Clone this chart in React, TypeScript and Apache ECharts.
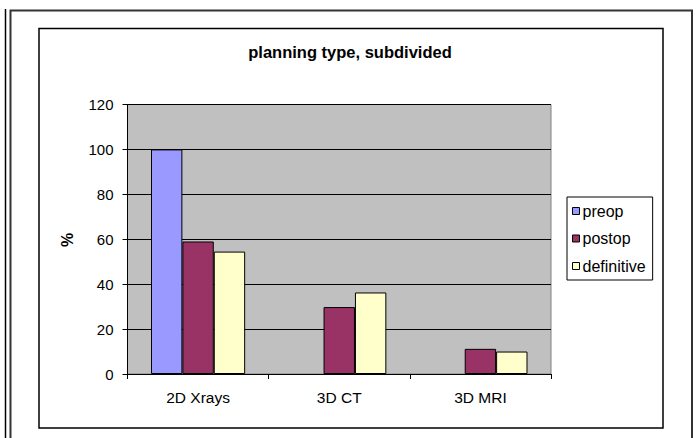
import React, { useEffect, useRef } from "react";
import * as echarts from "echarts";

const categories = ["2D Xrays", "3D CT", "3D MRI"];
const preop = [100, 0, 0];
const postop = [59, 29.8, 11.2];
const definitive = [54.5, 36.3, 10];
const seriesNames = ["preop", "postop", "definitive"];
const seriesColors = ["#9999FF", "#993366", "#FFFFCC"];

const FONT = "Arial, 'Liberation Sans', sans-serif";

export default function App() {
  const ref = useRef<HTMLDivElement>(null);

  useEffect(() => {
    if (!ref.current) return;
    const chart = echarts.init(ref.current, null, { renderer: "svg" });
    const values = [preop, postop, definitive];

    chart.setOption({
      animation: false,
      backgroundColor: "#ffffff",
      title: {
        text: "planning type, subdivided",
        left: 345,
        top: 38,
        textAlign: "center",
        textStyle: { fontFamily: FONT, fontSize: 16.5, fontWeight: "bold", color: "#000" },
      },
      grid: {
        left: 127.5,
        top: 104.5,
        right: 149,
        bottom: 64,
        show: true,
        backgroundColor: "#C0C0C0",
        borderColor: "#808080",
        borderWidth: 1,
      },
      legend: {
        orient: "vertical",
        left: 567,
        top: 197,
        padding: [6, 7, 6, 5],
        itemGap: 11.5,
        itemWidth: 7,
        itemHeight: 7,
        borderColor: "#000",
        borderWidth: 1,
        backgroundColor: "#fff",
        icon: "rect",
        itemStyle: { borderColor: "#000", borderWidth: 1 },
        textStyle: { fontFamily: FONT, fontSize: 16, color: "#000", lineHeight: 16, padding: [0, 0, 0, -2] },
        data: seriesNames,
      },
      xAxis: {
        type: "category",
        data: categories,
        axisLine: { lineStyle: { color: "#000", width: 1 } },
        axisTick: { show: true, length: 5, lineStyle: { color: "#000" } },
        axisLabel: { margin: 15, fontFamily: FONT, fontSize: 15.5, color: "#000" },
      },
      yAxis: {
        type: "value",
        min: 0,
        max: 120,
        interval: 20,
        axisLine: { show: true, lineStyle: { color: "#000", width: 1 } },
        axisTick: { show: true, length: 5, lineStyle: { color: "#000" } },
        axisLabel: { margin: 14, fontFamily: FONT, fontSize: 15, color: "#000" },
        splitLine: { show: true, lineStyle: { color: "#000", width: 1 } },
      },
      series: seriesNames.map((name, i) => ({
        name,
        type: "bar",
        data: values[i].map((v) => ({
          value: v,
          // a zero-height bar leaves no outline on the axis
          itemStyle: v === 0 ? { borderWidth: 0 } : undefined,
        })),
        barGap: "0%",
        barCategoryGap: "33.3%",
        itemStyle: { color: seriesColors[i], borderColor: "#000", borderWidth: 1 },
      })),
      graphic: [
        // outer frame lines
        { type: "line", shape: { x1: 5.5, y1: 9, x2: 5.5, y2: 438 }, style: { stroke: "#000", lineWidth: 1.5 } },
        { type: "polyline", shape: { points: [[10.5, 438], [10.5, 10.5], [692, 10.5], [692, 438]] }, style: { stroke: "#333", lineWidth: 2, fill: "none" } },
        // chart area border
        { type: "rect", shape: { x: 39, y: 28.5, width: 624, height: 399.5 }, style: { stroke: "#000", lineWidth: 1.5, fill: "none" } },
        // y axis title
        {
          type: "text",
          x: 67,
          y: 240,
          rotation: Math.PI / 2,
          style: { text: "%", fontFamily: FONT, fontSize: 16, fontWeight: "bold", fill: "#000", align: "center", verticalAlign: "middle" },
        },
      ],
    });

    return () => chart.dispose();
  }, []);

  return <div ref={ref} style={{ position: "absolute", left: 0, top: 0, width: 700, height: 438 }} />;
}
